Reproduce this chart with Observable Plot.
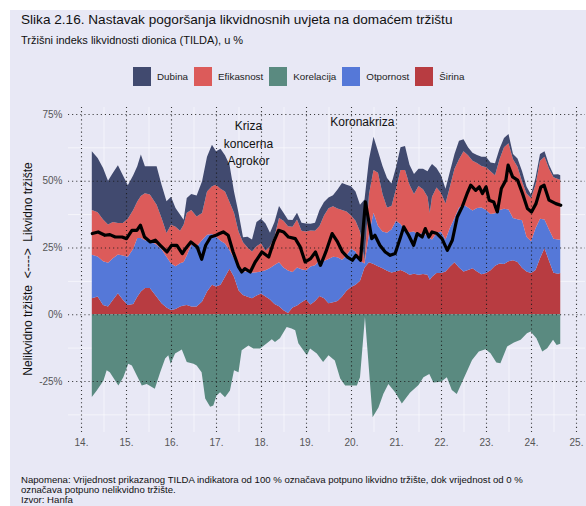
<!DOCTYPE html>
<html><head><meta charset="utf-8">
<script src="https://cdn.jsdelivr.net/npm/d3@7"></script>
<script src="https://cdn.jsdelivr.net/npm/@observablehq/plot@0.6"></script>
<style>
body{margin:0;background:#fff;font-family:"Liberation Sans",Arial,sans-serif;}
#wrap{position:relative;width:586px;height:506px;overflow:hidden;}
#bg{position:absolute;left:10px;top:10px;right:0;bottom:0;background:#e8e8f5;}
.abs{position:absolute;white-space:pre;}
#title{left:21px;top:12px;font-size:13.6px;color:#111;}
#sub{left:21px;top:34px;font-size:11px;color:#111;}
#legend{left:133px;top:67px;display:flex;align-items:center;font-size:9.8px;color:#222;}
#legend .sw{width:18px;height:19px;margin-right:6px;}
#legend .lb{margin-right:6px;}
#ytitle{left:28px;top:269px;transform:translate(-50%,-50%) rotate(-90deg);font-size:12px;color:#111;}
#foot{left:21px;top:475px;font-size:9.6px;line-height:10.2px;color:#111;}
#chart{position:absolute;left:0;top:95px;}
</style></head>
<body><div id="wrap"><div id="bg"></div>
<div class="abs" id="title">Slika 2.16. Nastavak pogoršanja likvidnosnih uvjeta na domaćem tržištu</div>
<div class="abs" id="sub">Tržišni indeks likvidnosti dionica (TILDA), u %</div>
<div class="abs" id="legend"></div>
<div class="abs" id="ytitle">Nelikvidno tržište  &lt;----&gt;  Likvidno tržište</div>
<div id="chart"></div>
<div class="abs" id="foot">Napomena: Vrijednost prikazanog TILDA indikatora od 100 % označava potpuno likvidno tržište, dok vrijednost od 0 %
označava potpuno nelikvidno tržište.
Izvor: Hanfa</div>
</div>
<script>
const seriesNames = ["Dubina","Efikasnost","Korelacija","Otpornost","Širina"];
const seriesColors = ["#414a6f","#dc5b5a","#5a8a80","#5578d8","#b83c41"];

const years = [14.24,14.37,14.49,14.6,14.71,14.82,14.93,15.04,15.16,15.25,15.33,15.42,15.53,15.68,15.79,15.9,16.0,16.1,16.2,16.28,16.35,16.45,16.57,16.69,16.8,16.91,17.0,17.1,17.2,17.3,17.4,17.5,17.6,17.7,17.8,17.9,18.0,18.1,18.2,18.3,18.4,18.5,18.6,18.7,18.8,18.9,19.0,19.1,19.2,19.3,19.4,19.5,19.6,19.7,19.8,19.9,20.0,20.1,20.2,20.3,20.4,20.5,20.6,20.7,20.8,20.9,21.0,21.1,21.2,21.3,21.4,21.5,21.6,21.7,21.75,21.8,21.9,22.0,22.1,22.2,22.3,22.4,22.5,22.6,22.7,22.8,22.9,23.0,23.1,23.2,23.3,23.4,23.5,23.6,23.7,23.8,23.9,24.0,24.1,24.2,24.3,24.4,24.5,24.6,24.65];
const sirina = [6,6.6,3.5,2.9,5.4,7.9,5.4, 3.5,3.8,6.5,8.5,9.8,9.8,6.5,4.1,2.5, 1.6,2,2.9,3.3,3.5,2.9,2.9,4.8,8.5,11, 10.4,11,14,17,14,9,7.2,6.5,6,7, 7.8,6.6,5.5,3.8,3,1.5,0.5,2.5,3.3,4.5, 5.5,3.6,5,6.8,6,4.1,4.5,5,6.6,8.8, 10.2,11,12.5,17.5,19.5,18.8,18,17.2,16.3,15.6, 16,16.6,15.8,14.8,15.2,14.8,15.1,14.8,12.9,14,15.4, 15.4,16,17.9,19.5,17.5,16,16.6,17.2,16,15, 15.4,16.5,18.2,19,18.8,19.8,20.2,19.6,17.4,16, 15.4,16.6,21,24.7,20,15.5,15.2,15.4];
const otpornost = [16.3,15,16.3,16.4,15.6,14.5,16.6, 18,20.7,22,20,17.9,17.5,19.5,20.2,19, 17.4,16,16.2,16.3,18.5,23.1,22.5,23,21.3,19, 18.6,16.5,12.5,7,7,9,8.8,9.5,9.5,8.7, 8.2,9.9,11.8,14.6,16.5,16,15.9,13.3,14.2,12.3, 11,14.3,13.3,13.4,13.9,16.6,17,16.3,13.8,13.2, 14.3,12.5,7.5,1.5,10.5,19.2,15,13.8,14.2,16.2, 19,17.2,15.7,15.9,15.8,14.7,15.7,14.4,15.6,14,15, 15.6,12,14.6,16.5,22.5,25,23.4,21.6,23.8,25, 23.6,21,19.6,20,20.7,19.4,15.8,16,17.8,13, 11.9,15.6,14.8,10.8,11.7,12.8,12.8,12.5];
const efikasnost = [16.7,16.6,15.7,14.3,13.5,11.8,12.2, 14.3,14.5,13.7,15.8,17.6,17.5,15,11.7,8.9, 14.5,14.8,12.2,13.9,16,13,11.2,10.1,16.2,17.9, 19.5,19.5,19.5,18,17,13,11,9,8,9.8, 10.6,7.3,8.2,10.6,16.5,17.5,16.5,17,18,14.5, 14.5,13.5,13,12.8,17.1,19,18.9,18.3,18.6,16.5, 12.5,11.5,11,1,15,16,20,14,9.5,8.7, 12,20.2,22.5,17.8,14,18.5,16,14.8,9.5,16,17.1, 14.5,13.5,15.4,18.5,18,20,19.5,18.7,16.8,15.5, 16,16,14.2,19,23,24.8,22,19.6,14.6,16.2, 16.2,16.3,21.7,23.5,22.8,23,22.6,22.5];
const dubina = [22,20.3,19.3,16.4,18.5,21.6,17.8, 12.5,13,13.2,15.5,10.1,10.6,14.4,12.5,11.9, 10.5,7,6,1.9,5.5,6,7.9,11.9,13,15.6, 12.5,15,13.5,14,8,7,1.8,4,4.5,9, 9.2,10.2,5,5.5,4.5,3,2.5,2.5,2.5,3, 3,2.5,3,6,5,4,4.2,7.1,10.1,10, 10.9,11,10,23,13,12.5,8,10.5,11,8.5, 8,8.5,9,7.5,7.5,6.5,7.7,9.5,17,12.3,7.3, 6.5,5.5,5.6,5.5,7,4.5,3,3,3,3.5, 4,3.3,4.5,4,3.5,3.5,2,3.1,3.8,2.6, 1.3,2.5,2.5,2,1.5,1,1.8,1.6];

const korYears = [14.24,14.35,14.5,14.57,14.64,14.83,14.94,15.05,15.13,15.24,15.35,15.46,15.64,15.76,15.87,15.94,15.99,16.09,16.24,16.35,16.5,16.57,16.68,16.76,16.87,16.94,17.01,17.09,17.2,17.31,17.4,17.5,17.57,17.72,17.83,17.98,18.13,18.24,18.31,18.42,18.57,18.68,18.76,18.83,18.94,19.02,19.09,19.24,19.38,19.5,19.64,19.76,19.87,20.13,20.2,20.31,20.48,20.61,20.72,20.83,20.98,21.13,21.31,21.5,21.61,21.74,21.83,22.0,22.13,22.24,22.35,22.54,22.69,22.84,22.99,23.1,23.23,23.32,23.47,23.62,23.77,23.91,23.99,24.12,24.25,24.36,24.49,24.57,24.65];
const korelacija = [-31,-28.6,-24.8,-21,-21.7,-26.7,-23.6,-18.5,-19.2,-22.9,-26.7,-26.1,-27.9,-21.7,-16.6,-15.4,-18.5,-14.7,-13.2,-17.9,-18.5,-19.2,-21.7,-31.6,-34.6,-34.2,-30.5,-29.2,-31.1,-28.6,-21,-21.7,-13.5,-11.7,-12.8,-12.8,-10.9,-9.4,-10.4,-9,-4.8,-5.3,-6,-10.9,-13.5,-15.4,-12.8,-14.7,-17.9,-15.4,-17.3,-24.1,-26.7,-26.7,-23.6,-1,-38.6,-34.9,-29.8,-26.1,-29.2,-33.4,-29.4,-26.5,-23.6,-22.4,-25.6,-25.25,-23.6,-28.4,-29.9,-22.75,-17.1,-14,-13.1,-14.6,-18.1,-18.4,-12.1,-10.6,-9.6,-7.1,-6.5,-9,-14,-12.75,-9.6,-11.5,-11.1];

const tildaYears = [14.24,14.37,14.52,14.63,14.75,14.9,15.0,15.12,15.23,15.31,15.4,15.53,15.64,15.75,15.9,16.0,16.12,16.24,16.31,16.43,16.57,16.67,16.76,16.87,16.99,17.07,17.15,17.26,17.37,17.49,17.56,17.63,17.75,17.86,18.01,18.16,18.27,18.38,18.49,18.6,18.75,18.86,18.97,19.09,19.2,19.31,19.43,19.57,19.69,19.8,19.91,20.02,20.1,20.2,20.31,20.45,20.52,20.63,20.75,20.86,20.97,21.08,21.16,21.27,21.38,21.46,21.57,21.64,21.72,21.79,21.9,22.01,22.13,22.24,22.35,22.46,22.57,22.65,22.76,22.84,22.91,22.99,23.06,23.16,23.24,23.33,23.43,23.48,23.58,23.69,23.8,23.91,24.0,24.1,24.21,24.28,24.39,24.54,24.65];
const tilda = [30.4,31,29.75,30,29.1,29.1,28.5,31.6,31.6,33.5,29.1,27.25,27.9,26,23.5,26,26,22.9,24.75,27.25,25.4,20.75,26,29.1,29.75,30.4,31,29.75,23.5,17.9,16,17.25,16,19.75,23.5,21.6,27.25,31.6,31,29.1,28.5,25.4,19.75,21,23.5,18.5,23.5,30.4,27.25,23.5,21.6,20.4,22.25,20.4,42.25,28.5,29.75,26,23.5,22.25,22.9,28.5,32.9,29.75,26,30.4,29.1,32.25,29.1,31,30.4,28.5,24.1,27.9,36.6,40.4,45.4,48.5,46.6,47.9,45.4,47.9,42.9,42.25,38.5,47.25,50.4,56,51.6,50.4,45.4,39.75,38.5,41.6,47.9,48.5,42.9,41.6,41];

const xTicks = [14,15,16,17,18,19,20,21,22,23,24,25];
const yTicks = [-25,0,25,50,75];
const xMinor = [14.5,15.5,16.5,17.5,18.5,19.5,20.5,21.5,22.5,23.5,24.5];
const yMinor = [-37.5,-12.5,12.5,37.5,62.5];
const annotations = [
  {x:17.71, y:64.7, text:"Kriza\nkoncerna\nAgrokor"},
  {x:20.24, y:72.6, text:"Koronakriza"}
];

// legend
const leg = document.getElementById("legend");
seriesNames.forEach((n,i)=>{
  const s=document.createElement("div");s.className="sw";s.style.background=seriesColors[i];leg.appendChild(s);
  const l=document.createElement("div");l.className="lb";l.textContent=n;leg.appendChild(l);
});

// data tables
const stackOrder = [["Širina",sirina],["Otpornost",otpornost],["Efikasnost",efikasnost],["Dubina",dubina]];
const stackRows = [];
years.forEach((t,i)=>{ stackOrder.forEach(([name,arr])=>stackRows.push({t, v:arr[i], s:name})); });
const korRows = korYears.map((t,i)=>({t, v:korelacija[i], s:"Korelacija"}));
const lineRows = tildaYears.map((t,i)=>({t, v:tilda[i]}));

const dotted = {stroke:"#1a1a1a", strokeOpacity:0.85, strokeWidth:1.1, strokeDasharray:"1.1,3"};

const chart = Plot.plot({
  width:586, height:357, marginLeft:68, marginRight:1, marginTop:12, marginBottom:20,
  style:{background:"transparent", fontFamily:"Liberation Sans, Arial, sans-serif", fontSize:"10px", overflow:"visible"},
  x:{domain:[13.711,25.2]},
  y:{domain:[-44.1,77.6]},
  color:{domain:seriesNames, range:seriesColors},
  marks:[
    Plot.ruleX(xMinor,{stroke:"#fff", strokeOpacity:0.55, strokeWidth:1}),
    Plot.ruleY(yMinor,{stroke:"#fff", strokeOpacity:0.55, strokeWidth:1}),
    Plot.areaY(stackRows,{x:"t", y:"v", z:"s", fill:"s", order:null}),
    Plot.areaY(korRows,{x:"t", y:"v", fill:"s"}),
    Plot.ruleX(xTicks, dotted),
    Plot.ruleY(yTicks, dotted),
    Plot.line(lineRows,{x:"t", y:"v", stroke:"#000", strokeWidth:3.2, strokeLinejoin:"round"}),
    Plot.text(annotations,{x:"x", y:"y", text:"text", fontSize:12, fill:"#111", lineHeight:1.45}),
    Plot.axisX({ticks:xTicks, tickFormat:d=>d+".", tickSize:0, tickPadding:6, fill:"#555", label:null}),
    Plot.axisY({ticks:yTicks, tickFormat:d=>d+"%", tickSize:0, tickPadding:6, fill:"#555", label:null})
  ]
});
document.getElementById("chart").appendChild(chart);
</script>
</body></html>
